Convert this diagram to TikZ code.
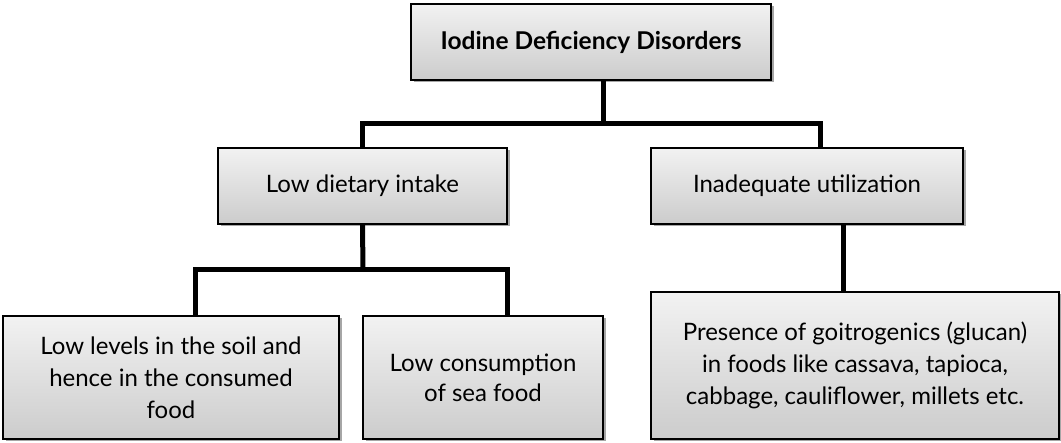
\documentclass[tikz,border=0pt]{standalone}
\usepackage{fontspec}
\setmainfont{Lato}
\usetikzlibrary{shadows}
\definecolor{boxtop}{RGB}{242,242,242}
\definecolor{boxbot}{RGB}{204,204,204}
\tikzset{
  box/.style={draw=black, line width=1.5pt, rectangle, inner sep=0pt, align=center,
    top color=boxtop, bottom color=boxbot,
    drop shadow={shadow xshift=2.5pt, shadow yshift=-2.5pt, opacity=0.35, fill=black},
    font=\fontsize{24}{32}\selectfont},
  conn/.style={draw=black, line width=5pt, line join=miter}
}
\begin{document}
\begin{tikzpicture}[x=1pt,y=-1pt]
\useasboundingbox (0,0) rectangle (1061,443);
\node[box, minimum width=360pt, minimum height=76pt, font=\fontsize{24.5}{32}\selectfont\bfseries] (top) at (591,42) {Iodine Deficiency Disorders};
\node[box, minimum width=289pt, minimum height=76pt] (low) at (362.5,186) {Low dietary intake};
\node[box, minimum width=312pt, minimum height=76pt] (inad) at (807,186) {Inadequate utilization};
\node[box, minimum width=336pt, minimum height=123pt] (soil) at (171,377.5) {Low levels in the soil and\\hence in the consumed\\food};
\node[box, minimum width=240pt, minimum height=123pt, font=\fontsize{24}{30}\selectfont] (sea) at (483,377.5) {Low consumption\\of sea food};
\node[box, minimum width=408pt, minimum height=147pt] (goit) at (855,365.5) {Presence of goitrogenics (glucan)\\in foods like cassava, tapioca,\\cabbage, cauliflower, millets etc.};
\coordinate (j1) at (603,124);
\coordinate (j2) at (363,270);
\draw[conn] (top.south -| j1) -- (j1);
\draw[conn] (low.north) |- (j1) -| (inad.north -| 820,0);
\draw[conn] (low.south) -- (j2);
\draw[conn] (soil.north -| 195,0) |- (j2) -| (sea.north -| 507,0);
\draw[conn] (inad.south -| 843,0) -- (goit.north -| 843,0);
\end{tikzpicture}
\end{document}
